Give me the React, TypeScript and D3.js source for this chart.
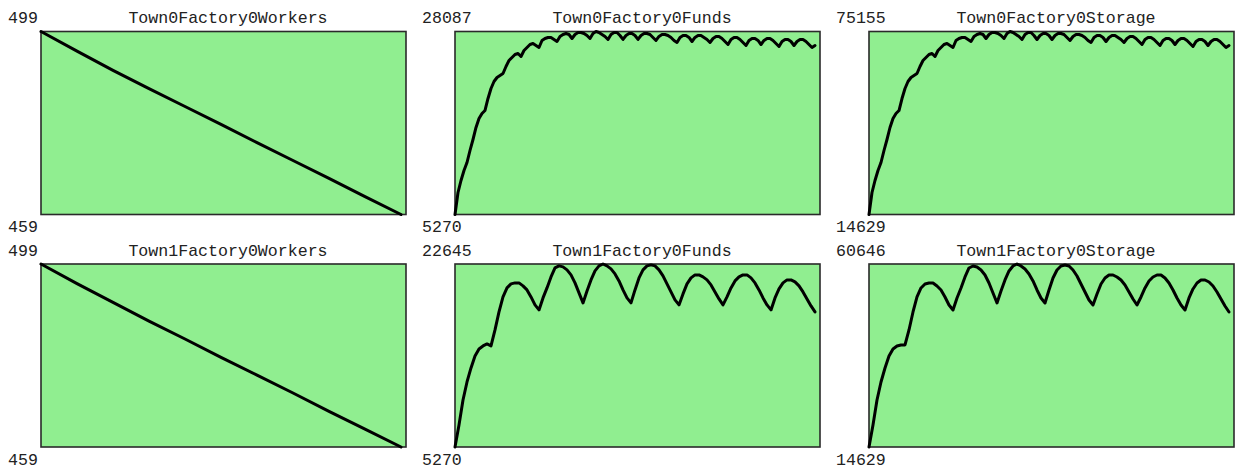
import React from 'react';
import * as d3 from 'd3';

// ---------- data ----------
const titles = [
  'Town0Factory0Workers', 'Town0Factory0Funds', 'Town0Factory0Storage',
  'Town1Factory0Workers', 'Town1Factory0Funds', 'Town1Factory0Storage',
];
const maxLabels = [499, 28087, 75155, 499, 22645, 60646];
const minLabels = [459, 5270, 14629, 459, 5270, 14629];

const town0Workers = [499, 494.7, 490.5, 486.5, 482.6, 478.7, 474.7, 470.8, 466.9, 462.9, 459];
const town1Workers = [499, 494.7, 490.6, 486.5, 482.6, 478.6, 474.7, 470.8, 466.8, 462.9, 459];

const town0Funds = [
  5270, 8013, 9510, 10757, 11754, 13251, 14623, 16119, 17241, 17865,
  18239, 19735, 20982, 21855, 22354, 22603, 22853, 23726, 24474, 24848,
  25222, 25347, 24973, 25721, 26095, 26469, 26594, 26344, 26095, 26968,
  27217, 27342, 27342, 27093, 26843, 27467, 27716, 27841, 27716, 27217,
  27716, 27965, 27965, 27841, 27591, 27217, 27841, 28087, 27965, 27716,
  27467, 27093, 27716, 27965, 27965, 27591, 27093, 27591, 27841, 27841,
  27591, 27093, 27591, 27841, 27841, 27716, 27342, 26968, 27467, 27716,
  27716, 27591, 27342, 26968, 26718, 27342, 27591, 27591, 27342, 26843,
  27342, 27591, 27591, 27342, 27093, 26718, 27217, 27467, 27467, 27217,
  26843, 26469, 27093, 27342, 27342, 27093, 26718, 26344, 26968, 27217,
  27217, 26968, 26469, 26968, 27217, 27217, 26968, 26594, 26220, 26843,
  27093, 27093, 26843, 26344, 26843, 27093, 27093, 26843, 26469, 26095,
  26344,
];

const town0Storage = [
  14629, 21904, 25873, 29180, 31825, 35794, 39432, 43400, 46376, 48030,
  49022, 52990, 56297, 58612, 59935, 60596, 61258, 63573, 65557, 66549,
  67541, 67872, 66880, 68864, 69856, 70848, 71179, 70517, 69856, 72171,
  72832, 73163, 73163, 72502, 71840, 73494, 74155, 74486, 74155, 72832,
  74155, 74816, 74816, 74486, 73824, 72832, 74486, 75155, 74816, 74155,
  73494, 72502, 74155, 74816, 74816, 73824, 72502, 73824, 74486, 74486,
  73824, 72502, 73824, 74486, 74486, 74155, 73163, 72171, 73494, 74155,
  74155, 73824, 73163, 72171, 71509, 73163, 73824, 73824, 73163, 71840,
  73163, 73824, 73824, 73163, 72502, 71509, 72832, 73494, 73494, 72832,
  71840, 70848, 72502, 73163, 73163, 72502, 71509, 70517, 72171, 72832,
  72832, 72171, 70848, 72171, 72832, 72832, 72171, 71179, 70187, 71840,
  72502, 72502, 71840, 70517, 71840, 72502, 72502, 71840, 70848, 69856,
  70517,
];

const town1Funds = [
  5270, 7360, 9735, 11445, 12775, 13915, 14580, 14865, 15055, 14865,
  16385, 18095, 19520, 20375, 20755, 20850, 20850, 20565, 20185, 19520,
  18760, 18285, 19425, 20375, 21420, 22275, 22465, 22370, 22085, 21610,
  20850, 19900, 18950, 20090, 21135, 21990, 22465, 22645, 22465, 22180,
  21705, 21040, 20185, 19425, 18950, 20185, 21325, 22085, 22465, 22560,
  22465, 22085, 21515, 20755, 19995, 19235, 18760, 19805, 20755, 21325,
  21610, 21610, 21420, 21135, 20660, 19995, 19330, 18760, 19520, 20375,
  21040, 21420, 21610, 21610, 21325, 20850, 20185, 19425, 18760, 18285,
  19425, 20280, 20850, 21135, 21135, 20945, 20565, 19995, 19330, 18665,
  18095,
];

const town1Storage = [
  14629, 20162, 26449, 30977, 34498, 37516, 39276, 40031, 40282, 40282,
  44055, 48582, 52354, 54618, 55624, 55875, 55875, 55121, 54115, 52354,
  50342, 49085, 52103, 54618, 57384, 59648, 60151, 59899, 59145, 57887,
  55875, 53360, 50845, 53863, 56630, 58893, 60151, 60646, 60151, 59396,
  58139, 56378, 54115, 52103, 50845, 54115, 57133, 59145, 60151, 60402,
  60151, 59145, 57636, 55624, 53612, 51600, 50342, 53109, 55624, 57133,
  57887, 57887, 57384, 56630, 55372, 53612, 51851, 50342, 52354, 54618,
  56378, 57384, 57887, 57887, 57133, 55875, 54115, 52103, 50342, 49085,
  52103, 54366, 55875, 56630, 56630, 56127, 55121, 53612, 51851, 50091,
  48582,
];

const seriesList = [town0Workers, town0Funds, town0Storage, town1Workers, town1Funds, town1Storage];

// ---------- layout ----------
const W = 1251;
const H = 469;
const boxLeft0 = 41;
const colStep = 414;
const boxW = 365;
const boxTop0 = 31.5;
const boxH = 183;
const rowStep = 232.5;
const dataSpan = 360;
const fontFamily = "'Liberation Mono', 'DejaVu Sans Mono', monospace";
const fontSize = 16.6;

export default function App() {
  return (
    <svg
      width={W}
      height={H}
      style={{ position: 'absolute', left: 0, top: 0, background: '#fff' }}
    >
      {titles.map((title, k) => {
        const col = k % 3;
        const row = Math.floor(k / 3);
        const x0 = boxLeft0 + col * colStep;
        const y0 = boxTop0 + row * rowStep;
        const values = seriesList[k];
        const xs = d3.scaleLinear().domain([0, values.length - 1]).range([x0, x0 + dataSpan]);
        const ys = d3.scaleLinear().domain([minLabels[k], maxLabels[k]]).range([y0 + boxH, y0]);
        const line = d3
          .line<number>()
          .x((_, i) => xs(i))
          .y((d) => ys(d));
        return (
          <g key={title}>
            <rect x={x0} y={y0} width={boxW} height={boxH} fill="#90ee90" stroke="#2a2a2a" strokeWidth={1.6} />
            <path d={line(values) || ''} fill="none" stroke="#000" strokeWidth={3} strokeLinejoin="round" strokeLinecap="round" />
            <text x={x0 - 33} y={y0 - 8.5} fontFamily={fontFamily} fontSize={fontSize} fill="#222">
              {String(maxLabels[k])}
            </text>
            <text x={x0 + 187} y={y0 - 8.5} fontFamily={fontFamily} fontSize={fontSize} fill="#222" textAnchor="middle">
              {title}
            </text>
            <text x={x0 - 33} y={y0 + boxH + 17.5} fontFamily={fontFamily} fontSize={fontSize} fill="#222">
              {String(minLabels[k])}
            </text>
          </g>
        );
      })}
    </svg>
  );
}
